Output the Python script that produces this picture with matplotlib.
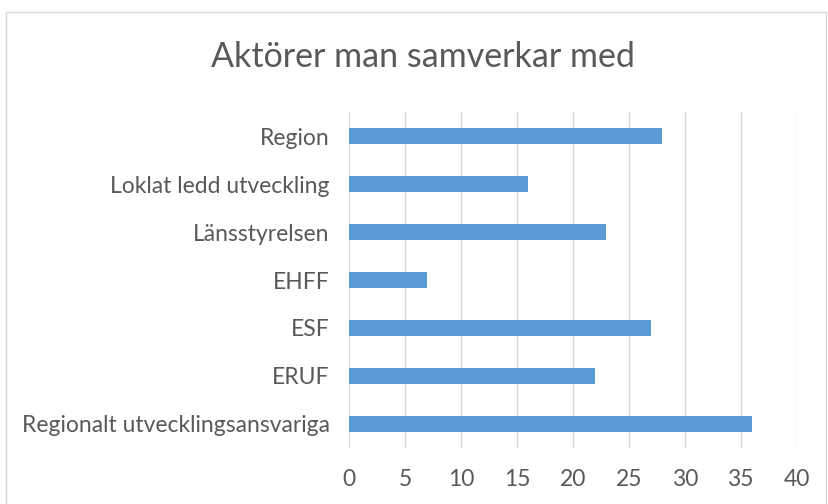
import matplotlib.pyplot as plt
from matplotlib.patches import Rectangle

# Data (top to bottom as shown)
categories = ['Region', 'Loklat ledd utveckling', 'Länsstyrelsen', 'EHFF',
              'ESF', 'ERUF', 'Regionalt utvecklingsansvariga']
values = [28, 16, 23, 7, 27, 22, 36]
xticks = [0, 5, 10, 15, 20, 25, 30, 35, 40]

plt.rcParams['font.family'] = ['Lato', 'DejaVu Sans']
grey = '#595959'

fig = plt.figure(figsize=(8.29, 5.04), dpi=100)
ax = fig.add_axes([349/829, 56/504, (796.7-349)/829, 336/504])

pos = list(range(len(categories)))[::-1]
ax.barh(pos, values, height=0.35, color='#5b9bd5', zorder=3)

ax.set_xlim(0, 40)
ax.set_ylim(-0.5, len(categories) - 0.5)
ax.set_xticks(xticks)
ax.set_yticks(pos)
ax.set_yticklabels(categories)
ax.tick_params(axis='both', length=0, colors=grey, labelsize=16.5)
ax.tick_params(axis='y', pad=14)
ax.tick_params(axis='x', pad=15)
ax.grid(axis='x', color='#d9d9d9', linewidth=1, zorder=0)
for s in ax.spines.values():
    s.set_visible(False)

fig.text(423/829, 1 - 57/504, 'Aktörer man samverkar med', ha='center', va='center',
         fontsize=24.5, color=grey)

# outer chart border
fig.patches.append(Rectangle((6/829, -0.1), (826-6)/829, 1 - 12/504 + 0.1,
                             transform=fig.transFigure, fill=False,
                             edgecolor='#d9d9d9', linewidth=1))

fig.savefig('out.png', dpi=100)
